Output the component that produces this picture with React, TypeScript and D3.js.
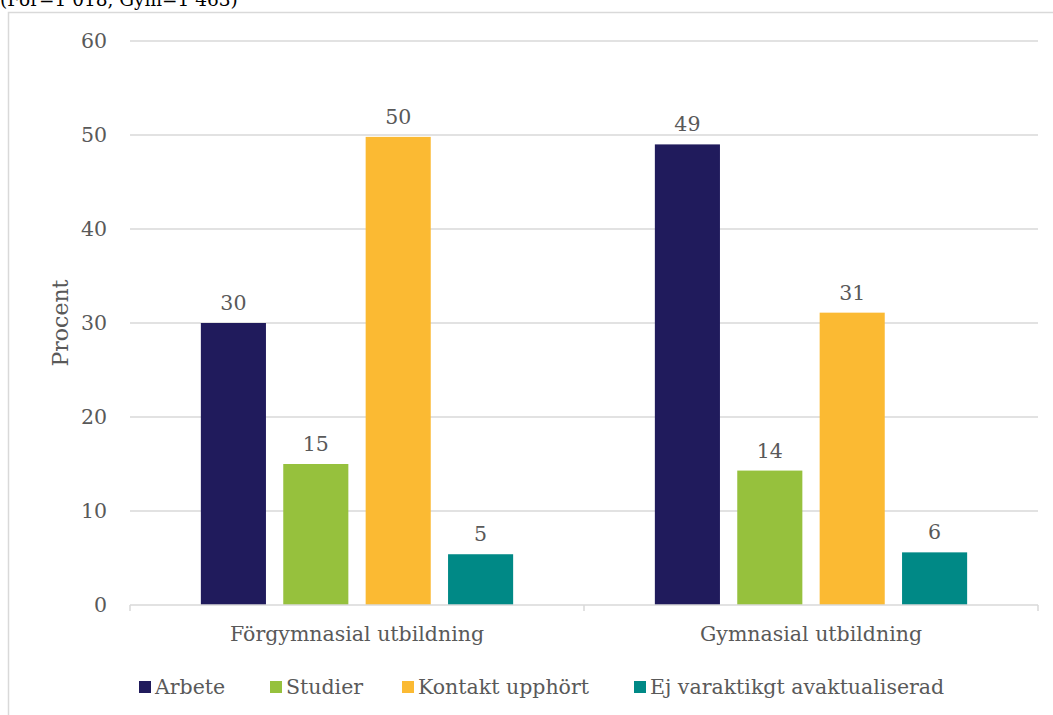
import React from "react";
import { scaleBand, scaleLinear, scaleOrdinal } from "d3";

const categories = ["Förgymnasial utbildning", "Gymnasial utbildning"];
const series = ["Arbete", "Studier", "Kontakt upphört", "Ej varaktikgt avaktualiserad"];
const colors = ["#201b5c", "#96c13d", "#fbba33", "#008986"];
// values per series, [För, Gym]
const arbete = [30.0, 49.0];
const studier = [15.0, 14.3];
const kontakt = [49.8, 31.1];
const ejVaraktigt = [5.4, 5.6];
const labels = [
  ["30", "49"],
  ["15", "14"],
  ["50", "31"],
  ["5", "6"],
];
const yTicks = [0, 10, 20, 30, 40, 50, 60];
const subtitle = "(För=1 018, Gym=1 463)";

const values = [arbete, studier, kontakt, ejVaraktigt];
const font = "Georgia, 'DejaVu Serif', serif";
const textColor = "#595959";
const gridColor = "#d9d9d9";

export default function App() {
  const W = 1053;
  const H = 715;
  const left = 130;
  const right = 1038;
  const top = 41;
  const bottom = 605;

  const x0 = scaleBand<string>().domain(categories).range([left, right]);
  const x1 = scaleBand<string>()
    .domain(series)
    .range([0, x0.bandwidth()])
    .paddingInner(0.21)
    .paddingOuter(0.86);
  const y = scaleLinear().domain([0, 60]).range([bottom, top]);
  const color = scaleOrdinal<string, string>().domain(series).range(colors);

  const legendX = [139, 270, 402, 634];

  return (
    <svg
      width={W}
      height={H}
      style={{ position: "absolute", left: 0, top: 0, background: "#fff" }}
      fontFamily={font}
    >
      <rect x={8.5} y={12.5} width={W + 10} height={H + 10} fill="none" stroke={gridColor} strokeWidth={1.5} />
      <text x={0} y={6} fontSize={18.5} fill="#000">{subtitle}</text>

      {yTicks.map((t) => (
        <g key={t}>
          {t > 0 && (
            <line x1={left} x2={right} y1={y(t)} y2={y(t)} stroke={gridColor} strokeWidth={1.3} />
          )}
          <text x={107} y={y(t)} dy="0.35em" textAnchor="end" fontSize={20.5} fill={textColor}>
            {t}
          </text>
        </g>
      ))}

      <text
        transform={`translate(60,${(top + bottom) / 2}) rotate(-90)`}
        textAnchor="middle"
        dy="0.35em"
        fontSize={22}
        fill={textColor}
      >
        Procent
      </text>

      {categories.map((c, ci) => (
        <g key={c} transform={`translate(${x0(c)},0)`}>
          {series.map((s, si) => {
            const v = values[si][ci];
            const bx = x1(s) as number;
            return (
              <g key={s}>
                <rect x={bx} y={y(v)} width={x1.bandwidth()} height={y(0) - y(v)} fill={color(s)} />
                <text
                  x={bx + x1.bandwidth() / 2}
                  y={y(v) - 13}
                  textAnchor="middle"
                  fontSize={20.5}
                  fill={textColor}
                >
                  {labels[si][ci]}
                </text>
              </g>
            );
          })}
          <text
            x={x0.bandwidth() / 2}
            y={641}
            textAnchor="middle"
            fontSize={20.5}
            fill={textColor}
          >
            {c}
          </text>
        </g>
      ))}

      <line x1={left} x2={right} y1={bottom} y2={bottom} stroke={gridColor} strokeWidth={1.5} />
      {[left, ...categories.map((c) => (x0(c) as number) + x0.bandwidth())].map((tx, i) => (
        <line key={i} x1={tx} x2={tx} y1={bottom} y2={bottom + 6} stroke={gridColor} strokeWidth={1.5} />
      ))}

      {series.map((s, i) => (
        <g key={s} transform={`translate(${legendX[i]},0)`}>
          <rect x={0} y={681} width={12} height={12} fill={color(s)} />
          <text x={16} y={694} fontSize={20.5} fill={textColor}>
            {s}
          </text>
        </g>
      ))}
    </svg>
  );
}
